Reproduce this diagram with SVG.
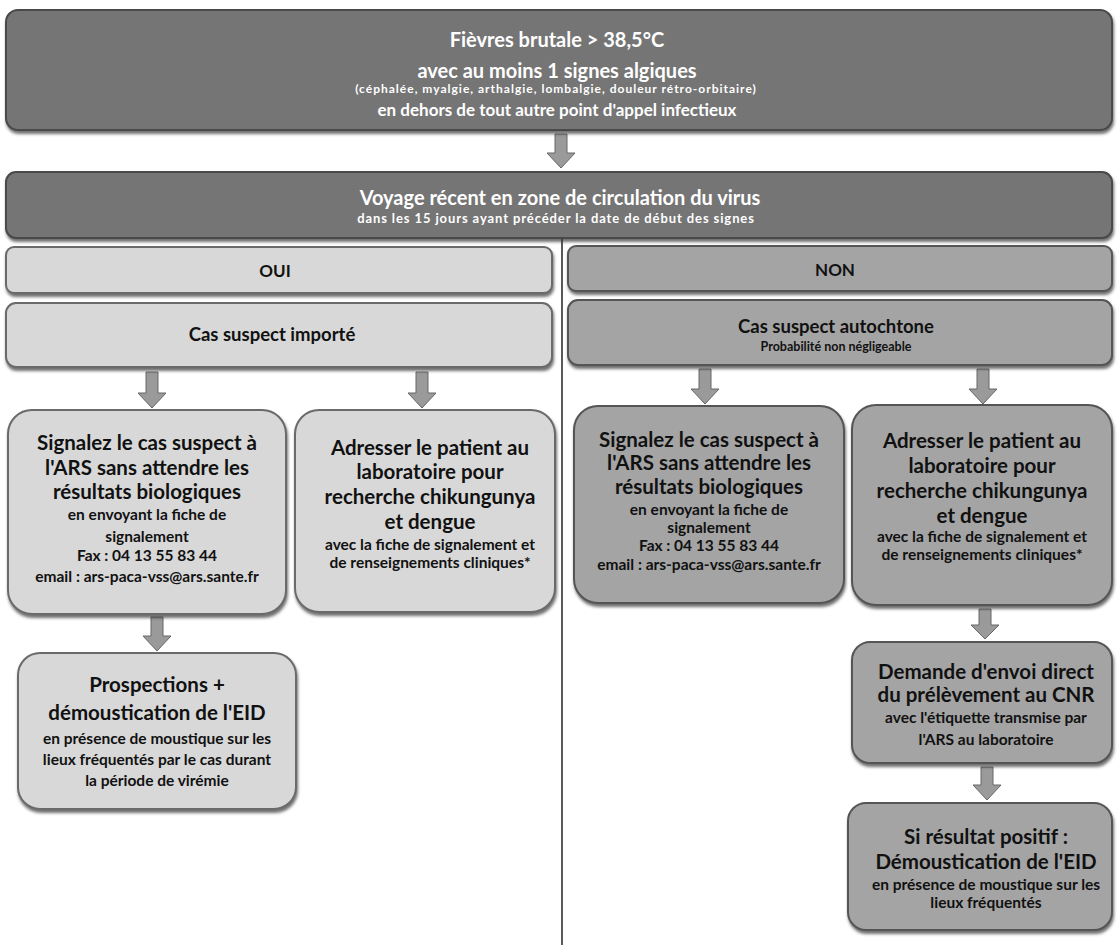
<svg xmlns="http://www.w3.org/2000/svg" width="1118" height="945" viewBox="0 0 1118 945">
<defs>
<filter id="sh" x="-5%" y="-5%" width="110%" height="120%">
<feDropShadow dx="1" dy="3" stdDeviation="1.5" flood-color="#333" flood-opacity="0.7"/>
</filter>
</defs>
<style>
.dark{fill:#747474;stroke:#4a4a4a;stroke-width:2;filter:url(#sh)}
.light{fill:#d8d8d8;stroke:#6a6a6a;stroke-width:2;filter:url(#sh)}
.mid{fill:#a4a4a4;stroke:#555;stroke-width:2;filter:url(#sh)}
text{font-family:Lato,"Liberation Sans",sans-serif;font-weight:bold;text-anchor:middle;fill:#111}
.w{fill:#fff}
.big{font-size:20.5px}
.hd{font-size:18.5px}
.sm{font-size:15.5px}
.arr{fill:#9a9a9a;stroke:#666;stroke-width:1}
.div{stroke:#222;stroke-width:1.5}
</style>
<rect width="1118" height="945" fill="#fff"/>
<g id="connectors">
<line class="div" x1="562" y1="238" x2="562" y2="945"/>
<path class="arr" d="M555 134H567V153H575L561 168L547 153H555Z"/>
<path class="arr" d="M146 372H158V393H166L152 408L138 393H146Z"/>
<path class="arr" d="M416 372H428V393H436L422 408L408 393H416Z"/>
<path class="arr" d="M699 369H711V389H719L705 404L691 389H699Z"/>
<path class="arr" d="M977 369H989V389H997L983 404L969 389H977Z"/>
<path class="arr" d="M151 617H163V636H171L157 651L143 636H151Z"/>
<path class="arr" d="M979 609H991V625H999L985 639L971 625H979Z"/>
<path class="arr" d="M981 767H993V785H1001L987 800L973 785H981Z"/>
</g>
<g id="n_fievre">
<rect class="dark" x="6" y="10" width="1106" height="120" rx="12"/>
<text class="w" x="557" y="47" style="font-size:20px">Fièvres brutale &gt; 38,5°C</text>
<text class="w" x="557" y="78" style="font-size:20px">avec au moins 1 signes algiques</text>
<text class="w" x="556" y="93" style="font-size:12px;letter-spacing:1px">(céphalée, myalgie, arthalgie, lombalgie, douleur rétro-orbitaire)</text>
<text class="w" x="557" y="116" style="font-size:17px">en dehors de tout autre point d'appel infectieux</text>
</g>
<g id="n_voyage">
<rect class="dark" x="6" y="172" width="1106" height="66" rx="10"/>
<text class="w" x="560" y="205" style="font-size:20px">Voyage récent en zone de circulation du virus</text>
<text class="w" x="556" y="223" style="font-size:13px;letter-spacing:0.9px">dans les 15 jours ayant précéder la date de début des signes</text>
</g>
<g id="n_oui">
<rect class="light" x="6" y="247" width="546" height="46" rx="8"/>
<text x="275" y="277" style="font-size:17px">OUI</text>
</g>
<g id="n_non">
<rect class="mid" x="568" y="246" width="544" height="45" rx="8"/>
<text x="835" y="276" style="font-size:17px">NON</text>
</g>
<g id="n_importe">
<rect class="light" x="6" y="303" width="546" height="64" rx="10"/>
<text class="hd" x="272" y="341">Cas suspect importé</text>
</g>
<g id="n_autochtone">
<rect class="mid" x="568" y="300" width="544" height="65" rx="10"/>
<text class="hd" x="836" y="333">Cas suspect autochtone</text>
<text x="836" y="351" style="font-size:12.5px">Probabilité non négligeable</text>
</g>
<g id="n_signal_oui">
<rect class="light" x="8" y="410" width="278" height="204" rx="24"/>
<text class="big" x="147" y="450">Signalez le cas suspect à</text>
<text class="big" x="147" y="475">l'ARS sans attendre les</text>
<text class="big" x="147" y="499">résultats biologiques</text>
<text class="sm" x="147" y="520">en envoyant la fiche de</text>
<text class="sm" x="147" y="542">signalement</text>
<text class="sm" x="147" y="561">Fax : 04 13 55 83 44</text>
<text class="sm" x="147" y="582">email : ars-paca-vss@ars.sante.fr</text>
</g>
<g id="n_labo_oui">
<rect class="light" x="295" y="410" width="260" height="202" rx="24"/>
<text class="big" x="430" y="455">Adresser le patient au</text>
<text class="big" x="430" y="479">laboratoire pour</text>
<text class="big" x="430" y="504">recherche chikungunya</text>
<text class="big" x="430" y="529">et dengue</text>
<text class="sm" x="430" y="550">avec la fiche de signalement et</text>
<text class="sm" x="430" y="568">de renseignements cliniques*</text>
</g>
<g id="n_prospections">
<rect class="light" x="18" y="653" width="278" height="156" rx="22"/>
<text class="big" x="157" y="692">Prospections +</text>
<text class="big" x="157" y="720">démoustication de l'EID</text>
<text class="sm" x="157" y="744">en présence de moustique sur les</text>
<text class="sm" x="157" y="765">lieux fréquentés par le cas durant</text>
<text class="sm" x="157" y="786">la période de virémie</text>
</g>
<g id="n_signal_non">
<rect class="mid" x="574" y="406" width="270" height="197" rx="24"/>
<text class="big" x="709" y="447">Signalez le cas suspect à</text>
<text class="big" x="709" y="470">l'ARS sans attendre les</text>
<text class="big" x="709" y="494">résultats biologiques</text>
<text class="sm" x="709" y="515">en envoyant la fiche de</text>
<text class="sm" x="709" y="533">signalement</text>
<text class="sm" x="709" y="551">Fax : 04 13 55 83 44</text>
<text class="sm" x="709" y="570">email : ars-paca-vss@ars.sante.fr</text>
</g>
<g id="n_labo_non">
<rect class="mid" x="852" y="405" width="260" height="200" rx="24"/>
<text class="big" x="982" y="448">Adresser le patient au</text>
<text class="big" x="982" y="473">laboratoire pour</text>
<text class="big" x="982" y="498">recherche chikungunya</text>
<text class="big" x="982" y="523">et dengue</text>
<text class="sm" x="982" y="542">avec la fiche de signalement et</text>
<text class="sm" x="982" y="560">de renseignements cliniques*</text>
</g>
<g id="n_cnr">
<rect class="mid" x="852" y="642" width="260" height="121" rx="18"/>
<text class="big" x="986" y="679">Demande d'envoi direct</text>
<text class="big" x="986" y="702">du prélèvement au CNR</text>
<text class="sm" x="986" y="723">avec l'étiquette transmise par</text>
<text class="sm" x="986" y="745">l'ARS au laboratoire</text>
</g>
<g id="n_positif">
<rect class="mid" x="848" y="803" width="264" height="127" rx="18"/>
<text class="big" x="986" y="844">Si résultat positif :</text>
<text class="big" x="986" y="869">Démoustication de l'EID</text>
<text class="sm" x="986" y="890">en présence de moustique sur les</text>
<text class="sm" x="986" y="908">lieux fréquentés</text>
</g>
</svg>
